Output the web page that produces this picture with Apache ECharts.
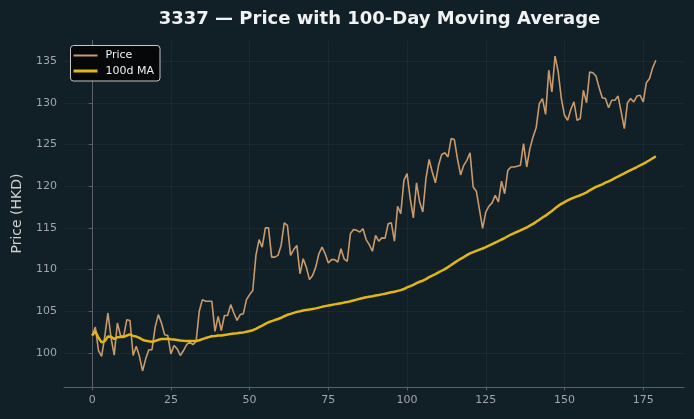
<!DOCTYPE html>
<html>
<head>
<meta charset="utf-8">
<script src="https://cdn.jsdelivr.net/npm/echarts@6/dist/echarts.min.js"></script>
<style>
  html, body { margin: 0; padding: 0; background: #111f27; }
  #main { width: 694px; height: 419px; }
</style>
</head>
<body>
<div id="main"></div>
<script>
// closing price per trading day
var price = [
  102.1, 103.1, 100.3, 99.6, 102.0, 104.8, 101.8, 99.75, 103.6, 102.1,
  102.0, 104.0, 103.9, 99.7, 100.8, 99.6, 97.85, 99.3, 100.4, 100.4,
  103.1, 104.6, 103.6, 102.2, 102.1, 99.9, 100.9, 100.5, 99.7, 100.3,
  101.0, 101.3, 101.0, 101.4, 105.0, 106.4, 106.2, 106.2, 106.2, 102.6,
  104.4, 102.7, 104.5, 104.5, 105.8, 104.8, 103.9, 104.6, 104.7, 106.4,
  107.0, 107.5, 111.7, 113.6, 112.7, 115.0, 115.0, 111.5, 111.5, 111.7,
  112.9, 115.6, 115.3, 111.7, 112.4, 112.9, 109.5, 111.3, 110.3, 108.8,
  109.3, 110.3, 111.9, 112.7, 111.9, 110.8, 111.2, 111.2, 110.9, 112.5,
  111.3, 111.0, 114.3, 114.8, 114.7, 114.5, 114.9, 113.6, 113.0, 112.2,
  114.1, 113.4, 113.8, 113.75, 115.5, 115.6, 113.4, 117.6, 116.7, 120.7,
  121.5, 118.5, 116.2, 120.4, 118.1, 116.9, 120.9, 123.2, 121.7, 120.4,
  122.5, 123.8, 124.0, 123.5, 125.7, 125.6, 123.3, 121.35, 122.5, 123.1,
  124.0, 119.9, 119.4, 117.2, 114.95, 116.9, 117.6, 118.0, 118.9, 118.1,
  120.6, 119.1, 121.9, 122.3, 122.3, 122.4, 122.5, 125.1, 122.3, 124.5,
  125.9, 127.0, 129.9, 130.5, 128.6, 133.9, 131.3, 135.6, 133.7, 130.5,
  128.5, 127.9, 129.2, 130.1, 127.9, 128.1, 131.5, 130.0, 133.7, 133.6,
  133.2, 131.8, 130.6, 130.5, 129.4, 130.3, 130.3, 130.8, 128.9, 126.9,
  130.0, 130.5, 130.1, 130.8, 130.9, 130.1, 132.4, 132.9, 134.2, 135.1
];
var maWindow = 100;
var xTicks = [0, 25, 50, 75, 100, 125, 150, 175];
var yTicks = [100, 105, 110, 115, 120, 125, 130, 135];

// rolling mean over the price series (min_periods = 1)
var ma = price.map(function (v, i) {
  var from = Math.max(0, i - maWindow + 1);
  var sum = 0;
  for (var k = from; k <= i; k++) sum += price[k];
  return +(sum / (i - from + 1)).toFixed(3);
});

var priceData = price.map(function (v, i) { return [i, v]; });
var maData = ma.map(function (v, i) { return [i, v]; });

var tickColor = '#a2a6a8';
var spineColor = '#5b6064';
var gridColor = 'rgba(255,255,255,0.045)';

var myChart = echarts.init(document.getElementById('main'), null, { renderer: 'canvas' });
var option = {
  backgroundColor: '#111f27',
  animation: false,
  title: {
    text: '3337 — Price with 100-Day Moving Average',
    left: 374.5,
    top: 5,
    textAlign: 'center',
    textStyle: {
      color: '#f2f2f2',
      fontFamily: 'DejaVu Sans',
      fontWeight: 'bold',
      fontSize: 18
    }
  },
  legend: {
    orient: 'vertical',
    left: 70.5,
    top: 45.5,
    padding: [4, 6, 4, 3],
    itemGap: 3.5,
    itemWidth: 24,
    itemHeight: 3,
    backgroundColor: '#050708',
    borderColor: '#c8c8c8',
    borderWidth: 1,
    borderRadius: 3,
    textStyle: {
      color: '#eeeeee',
      fontFamily: 'DejaVu Sans',
      fontSize: 11,
      lineHeight: 12,
      padding: [0, 0, 0, 3]
    },
    data: [
      { name: 'Price', icon: 'path://M0,0H24V2H0Z' },
      { name: '100d MA', icon: 'path://M0,0H24V3H0Z' }
    ]
  },
  grid: {
    left: 64,
    right: 10,
    top: 40.2,
    bottom: 32.2,
    containLabel: false
  },
  xAxis: {
    type: 'value',
    min: -8.95,
    max: 187.95,
    axisLine: { show: true, lineStyle: { color: spineColor, width: 1 } },
    axisTick: { show: true, length: 3.5, lineStyle: { color: spineColor }, customValues: xTicks },
    axisLabel: {
      color: tickColor, fontFamily: 'DejaVu Sans', fontSize: 11, margin: 8,
      customValues: xTicks
    },
    splitLine: { show: true, lineStyle: { color: gridColor, width: 1 } }
  },
  yAxis: {
    type: 'value',
    min: 95.95,
    max: 137.5,
    name: 'Price (HKD)',
    nameLocation: 'middle',
    nameGap: 40,
    nameTextStyle: { color: '#cfcfcf', fontFamily: 'DejaVu Sans', fontSize: 14 },
    axisLine: { show: true, lineStyle: { color: spineColor, width: 1 } },
    axisTick: { show: true, length: 3.5, lineStyle: { color: spineColor }, customValues: yTicks },
    axisLabel: {
      color: tickColor, fontFamily: 'DejaVu Sans', fontSize: 11, margin: 7,
      customValues: yTicks
    },
    splitLine: { show: true, lineStyle: { color: gridColor, width: 1 } }
  },
  series: [
    {
      name: 'Price',
      type: 'line',
      data: priceData,
      showSymbol: false,
      color: '#c99a6b',
      lineStyle: { width: 1.6, color: '#c99a6b' },
      z: 2
    },
    {
      name: '100d MA',
      type: 'line',
      data: maData,
      showSymbol: false,
      color: '#e2b715',
      lineStyle: { width: 2.5, color: '#e2b715' },
      z: 3
    }
  ]
};
myChart.setOption(option);
</script>
</body>
</html>
